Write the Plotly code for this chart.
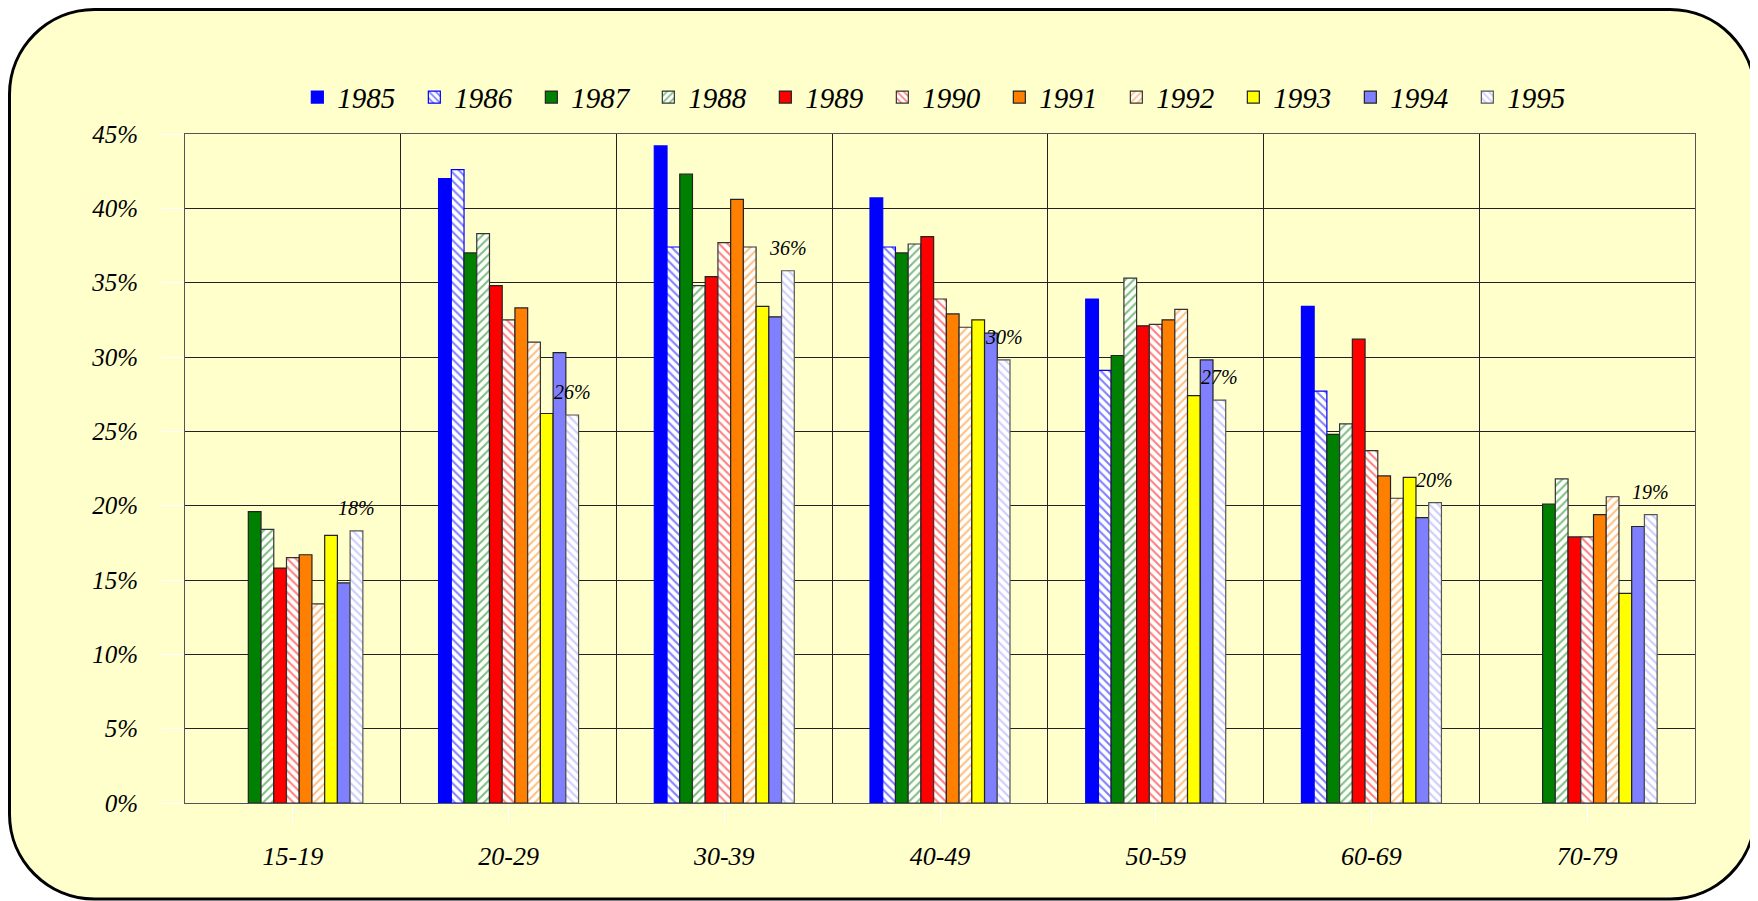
import plotly.graph_objects as go

age_groups = ['15-19', '20-29', '30-39', '40-49', '50-59', '60-69', '70-79']
years = ['1985', '1986', '1987', '1988', '1989', '1990', '1991', '1992', '1993', '1994', '1995']

# share per age group, in percent (None = no bar)
v1985 = [None, 42.0, 44.2, 40.7, 33.9, 33.4, None]
v1986 = [None, 42.6, 37.4, 37.4, 29.1, 27.7, None]
v1987 = [19.6, 37.0, 42.3, 37.0, 30.1, 24.8, 20.1]
v1988 = [18.4, 38.3, 34.8, 37.6, 35.3, 25.5, 21.8]
v1989 = [15.8, 34.8, 35.4, 38.1, 32.1, 31.2, 17.9]
v1990 = [16.5, 32.5, 37.7, 33.9, 32.2, 23.7, 17.9]
v1991 = [16.7, 33.3, 40.6, 32.9, 32.5, 22.0, 19.4]
v1992 = [13.4, 31.0, 37.4, 32.0, 33.2, 20.5, 20.6]
v1993 = [18.0, 26.2, 33.4, 32.5, 27.4, 21.9, 14.1]
v1994 = [14.8, 30.3, 32.7, 31.6, 29.8, 19.2, 18.6]
v1995 = [18.3, 26.1, 35.8, 29.8, 27.1, 20.2, 19.4]

series = [v1985, v1986, v1987, v1988, v1989, v1990, v1991, v1992, v1993, v1994, v1995]

# (colour, hatch or '', border colour)
styles = [
    ('#0000ff', '', '#0000ff'),
    ('#0000ff', '\\', '#0000ff'),
    ('#008000', '', '#222222'),
    ('#008000', '/', '#333333'),
    ('#ff0000', '', '#222222'),
    ('#ff0000', '\\', '#333333'),
    ('#ff8000', '', '#222222'),
    ('#ff8000', '/', '#333333'),
    ('#ffff00', '', '#222222'),
    ('#8080ff', '', '#222222'),
    ('#9999ff', '\\', '#555555'),
]

xpos = list(range(len(age_groups)))
font_fam = 'Liberation Serif, Times New Roman, serif'

fig = go.Figure()
for name, vals, (col, hatch, edge) in zip(years, series, styles):
    if hatch:
        marker = dict(color='white', line=dict(color=edge, width=1.2),
                      pattern=dict(shape=hatch, fgcolor=col, bgcolor='white',
                                   size=6, solidity=0.35))
    else:
        marker = dict(color=col, line=dict(color=edge, width=1.2))
    fig.add_trace(go.Bar(x=xpos, y=vals, name=name, marker=marker))

# labels over the 1995 bars
for xi, v in zip(xpos, v1995):
    fig.add_annotation(x=xi, y=v, text='%d%%' % round(v), showarrow=False,
                       xshift=63.5, yshift=23,
                       font=dict(family=font_fam, size=20, style='italic', color='black'))

# page has an 8px body margin, so the figure is drawn 8px smaller
W, H = 1750, 893
ml, mr, mt, mb = 177, 63, 126, 98
pw, ph = W - ml - mr, H - mt - mb
def px(x):
    return (x - ml) / pw
def py(y):
    return (H - mb - y) / ph
# rounded frame behind everything (pixel -> paper)
L, T, R, B, r = 1.5, 1.5, 1747, 891, 85
k = r * 0.5523
path = (f'M{px(L + r)},{py(T)} L{px(R - r)},{py(T)} '
        f'C{px(R - r + k)},{py(T)} {px(R)},{py(T + r - k)} {px(R)},{py(T + r)} '
        f'L{px(R)},{py(B - r)} '
        f'C{px(R)},{py(B - r + k)} {px(R - r + k)},{py(B)} {px(R - r)},{py(B)} '
        f'L{px(L + r)},{py(B)} '
        f'C{px(L + r - k)},{py(B)} {px(L)},{py(B - r + k)} {px(L)},{py(B - r)} '
        f'L{px(L)},{py(T + r)} '
        f'C{px(L)},{py(T + r - k)} {px(L + r - k)},{py(T)} {px(L + r)},{py(T)} Z')
fig.add_shape(type='path', path=path, xref='paper', yref='paper', layer='below',
              fillcolor='#ffffcc', line=dict(color='black', width=3))

fig.update_layout(
    width=W, height=H,
    margin=dict(l=ml, r=mr, t=mt, b=mb),
    paper_bgcolor='white',
    plot_bgcolor='rgba(0,0,0,0)',
    barmode='group', bargap=0.351, bargroupgap=0,
    font=dict(family=font_fam, size=25, color='black', style='italic'),
    legend=dict(orientation='h', x=0.0744, xanchor='left', y=1.055, yanchor='middle',
                bgcolor='rgba(0,0,0,0)', font=dict(size=29, style='italic'),
                traceorder='normal', entrywidth=72, entrywidthmode='pixels'),
    showlegend=True,
)
fig.update_xaxes(
    range=[-0.5, 6.5], tickmode='array', tickvals=xpos, ticktext=age_groups,
    showgrid=False, zeroline=False,
    showline=True, linecolor='#555555', linewidth=1, mirror=True,
    ticks='outside', tickcolor='white', ticklen=20, ticklabelstandoff=10,
    tickfont=dict(size=26, style='italic'),
    minor=dict(tickmode='array', tickvals=[0.5, 1.5, 2.5, 3.5, 4.5, 5.5],
               showgrid=True, gridcolor='#222222', gridwidth=1, ticks=''),
)
fig.update_yaxes(
    range=[0, 45], dtick=5, ticksuffix='%',
    showgrid=True, gridcolor='#222222', gridwidth=1, zeroline=False,
    showline=True, linecolor='#555555', linewidth=1, mirror=True,
    ticks='outside', tickcolor='white', ticklen=23, ticklabelstandoff=18,
    tickfont=dict(size=25, style='italic'),
)

fig.write_html('out.html')
